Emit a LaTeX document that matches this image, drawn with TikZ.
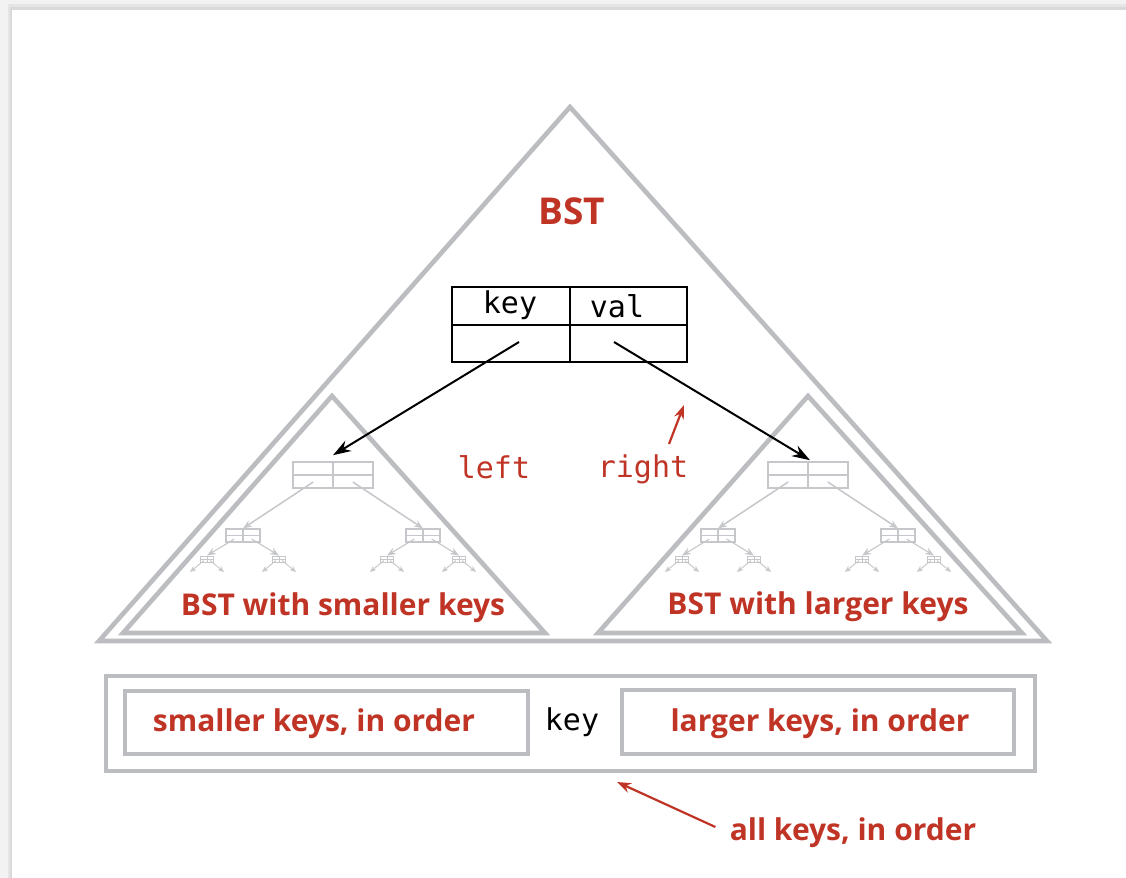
\documentclass[tikz,border=0pt]{standalone}
\usepackage{fontspec}
\newfontfamily\labelfont{Open Sans}
\newfontfamily\codefont{DejaVu Sans Mono}
\usetikzlibrary{arrows.meta,calc}

\definecolor{bstred}{RGB}{192,52,38}
\definecolor{framegray}{RGB}{188,189,193}
\definecolor{minigray}{RGB}{198,199,203}

\tikzset{
  frameline/.style={draw=framegray, line width=2.3pt},
  redlabel/.style={text=bstred, inner sep=0pt, font=\labelfont\bfseries\fontsize{15}{17}\selectfont},
  codelabel/.style={inner sep=0pt, font=\codefont\fontsize{15}{17}\selectfont},
  cross/.style={path picture={
      \draw[#1] (path picture bounding box.north) -- (path picture bounding box.south)
                (path picture bounding box.west) -- (path picture bounding box.east);}},
  minibox/.style={draw=minigray, inner sep=0pt, cross={minigray, line width=#1}, line width=#1},
  miniarrow/.style={draw=minigray, line width=#1, -{Stealth[length=4.5pt, width=3.5pt]}},
  mainarrow/.style={draw=black, line width=1pt, -{Stealth[length=9pt, width=6pt]}},
  redarrow/.style={draw=bstred, line width=1.1pt, -{Stealth[length=7pt, width=5pt]}},
}

\begin{document}
\begin{tikzpicture}[x=0.5pt, y=-0.5pt, line join=miter]
  \useasboundingbox (0,0) rectangle (1126,878);

  % page with its shadow
  \fill[black!5] (0,0) rectangle (1126,878);
  \fill[black!10] (8,4) rectangle (1126,878);
  \fill[black!15] (10,7) rectangle (1126,878);
  \fill[white] (12,10) rectangle (1126,878);

  % triangles
  \coordinate (T0) at (570,107);
  \coordinate (T1) at (99,641);
  \coordinate (T2) at (1047,641);
  \coordinate (L0) at (332,396);
  \coordinate (L1) at (123,633);
  \coordinate (L2) at (545,633);
  \coordinate (R0) at (808,396);
  \coordinate (R1) at (598,633);
  \coordinate (R2) at (1022,633);
  \draw[frameline] (T0) -- (T1) -- (T2) -- cycle;
  \draw[frameline] (L0) -- (L1) -- (L2) -- cycle;
  \draw[frameline] (R0) -- (R1) -- (R2) -- cycle;

  \node[redlabel, font=\labelfont\bfseries\fontsize{18.5}{20}\selectfont] (bst) at (572,211) {BST};
  \node[redlabel] (smallbst) at (343,608) {BST with smaller keys};
  \node[redlabel] (largebst) at (818,607) {BST with larger keys};

  % root node
  \node[draw, line width=1pt, inner sep=0pt, minimum width=117.5pt, minimum height=37.5pt,
        cross={black, line width=1pt}] (root) at (569.5,324.5) {};
  \node[codelabel] (key) at (510,305) {key};
  \node[codelabel] (val) at (617,306) {val};
  \coordinate (leftptr) at (519,342);
  \coordinate (rightptr) at (614,342);

  \node[codelabel, text=bstred] (left) at (494,467) {left};
  \node[codelabel, text=bstred] (right) at (643,469) {right};
  \coordinate (rightend) at (684,405);

  % small subtrees
  \foreach \cx/\nm in {333/L, 808/R} {
    \node[minibox=0.8pt, minimum width=40pt, minimum height=13pt] (\nm) at (\cx,475) {};
    \foreach \dx/\sn in {-90/a, 90/b} {
      \node[minibox=0.6pt, minimum width=17pt, minimum height=6.5pt] (\nm\sn) at (\cx+\dx,535.5) {};
      \draw[miniarrow=0.75pt] ($(\nm.center)+(\dx*0.22,7)$) -- (\nm\sn.north);
      \foreach \ex/\tn in {-36/a, 36/b} {
        \node[minibox=0.45pt, minimum width=6.5pt, minimum height=3pt] (\nm\sn\tn) at (\cx+\dx+\ex,559) {};
        \draw[miniarrow=0.55pt] ($(\nm\sn.center)+(\ex*0.24,3.5)$) -- (\nm\sn\tn.north);
        \foreach \fx in {-1,1}
          \draw[draw=minigray, line width=0.45pt, -{Stealth[length=3.2pt, width=2.6pt]}]
            ($(\nm\sn\tn.center)+(\fx*3,1.5)$) -- ($(\nm\sn\tn.center)+(\fx*17,13)$);
      }
    }
  }

  \draw[mainarrow] (leftptr) -- ([yshift=3pt]L.north);
  \draw[mainarrow] (rightptr) -- ([xshift=1pt, yshift=0.5pt]R.north);
  \draw[redarrow] ([xshift=13pt, yshift=5pt]right.north) -- (rightend);

  % keys in order
  \node[draw=framegray, line width=2.3pt, minimum width=464.5pt, minimum height=47.5pt] (allbox) at (570.5,723.5) {};
  \node[draw=framegray, line width=2.3pt, minimum width=201.5pt, minimum height=31.5pt] (smallbox) at (326.5,722.5) {};
  \node[draw=framegray, line width=2.3pt, minimum width=196pt, minimum height=32pt] (largebox) at (818,722) {};
  \node[redlabel] (smallkeys) at (314,724) {smaller keys, in order};
  \node[redlabel] (largekeys) at (820,724) {larger keys, in order};
  \node[codelabel] (midkey) at (572,722) {key};

  \node[redlabel] (allkeys) at (853,833) {all keys, in order};
  \coordinate (allend) at (617,782);
  \draw[redarrow] ([xshift=-7pt, yshift=3pt]allkeys.west) -- (allend);
\end{tikzpicture}
\end{document}
